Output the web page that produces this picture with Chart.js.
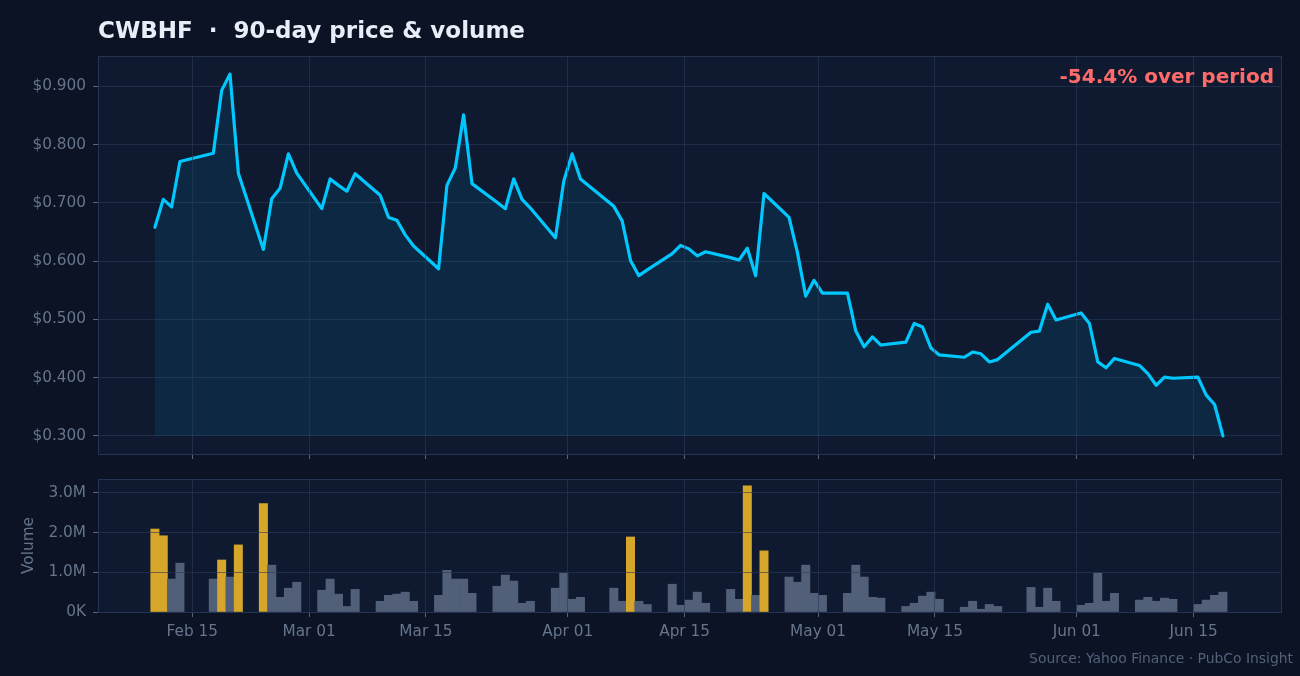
<!DOCTYPE html>
<html><head><meta charset="utf-8">
<script src="https://cdn.jsdelivr.net/npm/chart.js@4.4.1/dist/chart.umd.min.js"></script>
<style>
html,body{margin:0;padding:0;background:#0b1325;width:1300px;height:676px;overflow:hidden;}
#wrap{position:relative;width:1300px;height:676px;}
canvas{position:absolute;left:0;}
#priceCanvas{top:0;}
#volCanvas{top:470px;}
</style></head><body>
<div id="wrap"><canvas id="priceCanvas" width="1300" height="470"></canvas><canvas id="volCanvas" width="1300" height="206"></canvas></div>
<script>
const ticker = 'CWBHF';
const titleText = 'CWBHF  \u00b7  90-day price & volume';
const sourceText = 'Source: Yahoo Finance \u00b7 PubCo Insight';

const dates = [
 '2026-02-10','2026-02-11','2026-02-12','2026-02-13','2026-02-17','2026-02-18','2026-02-19','2026-02-20','2026-02-23','2026-02-24','2026-02-25','2026-02-26','2026-02-27',
 '2026-03-02','2026-03-03','2026-03-04','2026-03-05','2026-03-06','2026-03-09','2026-03-10','2026-03-11','2026-03-12','2026-03-13','2026-03-16','2026-03-17','2026-03-18','2026-03-19','2026-03-20','2026-03-23','2026-03-24','2026-03-25','2026-03-26','2026-03-27','2026-03-30','2026-03-31',
 '2026-04-01','2026-04-02','2026-04-06','2026-04-07','2026-04-08','2026-04-09','2026-04-10','2026-04-13','2026-04-14','2026-04-15','2026-04-16','2026-04-17','2026-04-20','2026-04-21','2026-04-22','2026-04-23','2026-04-24','2026-04-27','2026-04-28','2026-04-29','2026-04-30',
 '2026-05-01','2026-05-04','2026-05-05','2026-05-06','2026-05-07','2026-05-08','2026-05-11','2026-05-12','2026-05-13','2026-05-14','2026-05-15','2026-05-18','2026-05-19','2026-05-20','2026-05-21','2026-05-22','2026-05-26','2026-05-27','2026-05-28','2026-05-29',
 '2026-06-01','2026-06-02','2026-06-03','2026-06-04','2026-06-05','2026-06-08','2026-06-09','2026-06-10','2026-06-11','2026-06-12','2026-06-15','2026-06-16','2026-06-17','2026-06-18'
];

const prices = [
 0.658,0.706,0.693,0.771,0.785,0.893,0.921,0.751,0.620,0.707,0.725,0.784,0.751,
 0.690,0.741,0.730,0.720,0.750,0.713,0.675,0.670,0.645,0.626,0.587,0.730,0.760,0.851,0.733,0.701,0.690,0.741,0.706,0.691,0.640,0.737,
 0.784,0.741,0.694,0.669,0.601,0.575,0.585,0.613,0.627,0.621,0.609,0.616,0.606,0.602,0.622,0.575,0.716,0.675,0.615,0.540,0.567,
 0.545,0.545,0.480,0.453,0.470,0.456,0.461,0.493,0.487,0.451,0.439,0.435,0.444,0.441,0.427,0.431,0.478,0.480,0.526,0.499,
 0.511,0.493,0.427,0.417,0.433,0.421,0.407,0.387,0.401,0.399,0.401,0.370,0.354,0.300
];

const volumes = [
 2090000,1920000,830000,1230000,830000,1310000,880000,1690000,2730000,1180000,370000,600000,750000,
 550000,830000,450000,140000,570000,270000,420000,450000,500000,270000,420000,1050000,830000,830000,470000,650000,930000,780000,220000,270000,600000,980000,
 320000,370000,600000,270000,1890000,270000,190000,700000,170000,300000,500000,220000,570000,320000,3180000,420000,1540000,880000,750000,1180000,470000,
 420000,470000,1180000,880000,370000,350000,140000,220000,400000,500000,320000,120000,270000,70000,190000,140000,620000,120000,600000,270000,
 170000,220000,980000,270000,470000,300000,370000,270000,350000,320000,190000,300000,420000,500000
];

const xTickDates  = ['2026-02-15','2026-03-01','2026-03-15','2026-04-01','2026-04-15','2026-05-01','2026-05-15','2026-06-01','2026-06-15'];
const xTickLabels = ['Feb 15','Mar 01','Mar 15','Apr 01','Apr 15','May 01','May 15','Jun 01','Jun 15'];
const priceTicks  = [0.3,0.4,0.5,0.6,0.7,0.8,0.9];
const volumeTicks = [0,1000000,2000000,3000000];
const volumeTickLabels = ['0K','1.0M','2.0M','3.0M'];

// ---- helpers ----
const DAY = 86400000, EPOCH = Date.UTC(2026,0,1);
const dayNum = s => (Date.parse(s + 'T00:00:00Z') - EPOCH) / DAY;
const SESSION = 0.52; // daily bars time-stamped mid-session
const xVals = dates.map(d => dayNum(d) + SESSION);
const xTickVals = xTickDates.map(dayNum);
const X_MIN = 33.7, X_MAX = 175.6;

const FONT = 'DejaVu Sans';
const BG_PLOT = '#0f1a30';
const GRID = 'rgba(42,58,88,0.6)';
const TICKC = '#56657c';
const LABEL = '#66758c';
const SPINE = '#243350';
const LINE = '#00c8ff';
const GOLD = '#d6a62a';
const GRAY = '#525f78';

const minPrice = Math.min(...prices);
const meanVol = volumes.reduce((a,b)=>a+b,0) / volumes.length;
const pctChange = (prices[prices.length-1] / prices[0] - 1) * 100;

const panelPlugin = {
  id: 'panel',
  beforeDraw(chart) {
    const {ctx, chartArea:{left,top,width,height}} = chart;
    ctx.save(); ctx.fillStyle = BG_PLOT; ctx.fillRect(left, top, width, height); ctx.restore();
  },
  afterDraw(chart) {
    const {ctx, chartArea:{left,top,width,height}} = chart;
    ctx.save(); ctx.strokeStyle = SPINE; ctx.lineWidth = 1;
    ctx.strokeRect(Math.round(left)+0.5, Math.round(top)+0.5, Math.round(width)-1, Math.round(height));
    ctx.restore();
  }
};

const textPlugin = {
  id: 'texts',
  afterDraw(chart, args, opts) {
    const ctx = chart.ctx;
    ctx.save();
    (opts.items || []).forEach(t => {
      ctx.font = t.font; ctx.fillStyle = t.color; ctx.textAlign = t.align; ctx.textBaseline = 'alphabetic';
      ctx.fillText(t.text, t.x, t.y);
    });
    ctx.restore();
  }
};

function noPad(s) { s.paddingTop = 0; s.paddingBottom = 0; s.paddingLeft = 0; s.paddingRight = 0; }

function xScale(showLabels, height) {
  return {
    type: 'linear', min: X_MIN, max: X_MAX, offset: false,
    afterBuildTicks: s => { s.ticks = xTickVals.map(v => ({value: v})); },
    afterFit: s => { s.height = height; noPad(s); },
    grid: {color: GRID, lineWidth: 1, drawTicks: true, tickLength: 5, tickColor: TICKC, offset: false, z: 1},
    border: {display: false},
    ticks: {display: showLabels, autoSkip: false, maxRotation: 0, minRotation: 0, padding: 6, color: LABEL,
            font: {family: FONT, size: 15.3}, callback: (v, i) => xTickLabels[i]}
  };
}

new Chart(document.getElementById('priceCanvas'), {
  type: 'line',
  data: {
    datasets: [{
      label: ticker + ' price',
      data: xVals.map((x, i) => ({x, y: prices[i]})),
      borderColor: LINE, borderWidth: 3.2, pointRadius: 0, tension: 0,
      borderJoinStyle: 'round', borderCapStyle: 'round',
      fill: {value: minPrice}, backgroundColor: 'rgba(0,190,255,0.09)'
    }]
  },
  options: {
    responsive: false, animation: false, devicePixelRatio: 1,
    layout: {padding: {left: 0, right: 18, top: 56, bottom: 0}},
    plugins: {
      legend: {display: false}, tooltip: {enabled: false},
      texts: {items: [
        {text: titleText, x: 98, y: 38, font: 'bold 23px "DejaVu Sans"', color: '#e8eef7', align: 'left'},
        {text: pctChange.toFixed(1) + '% over period', x: 1274, y: 83, font: 'bold 20px "DejaVu Sans"', color: '#ff6b6b', align: 'right'}
      ]}
    },
    scales: {
      x: xScale(false, 16),
      y: {
        min: 0.269, max: 0.952,
        afterBuildTicks: s => { s.ticks = priceTicks.map(v => ({value: v})); },
        afterFit: s => { s.width = 98; noPad(s); },
        grid: {color: GRID, lineWidth: 1, tickLength: 5, tickColor: TICKC},
        border: {display: false},
        ticks: {padding: 7, color: LABEL, font: {family: FONT, size: 15.3}, callback: v => '$' + Number(v).toFixed(3)}
      }
    }
  },
  plugins: [panelPlugin, textPlugin]
});

new Chart(document.getElementById('volCanvas'), {
  type: 'bar',
  data: {
    datasets: [{
      label: 'Volume',
      data: xVals.map((x, i) => ({x, y: volumes[i]})),
      backgroundColor: volumes.map(v => v > 2 * meanVol ? GOLD : GRAY),
      borderWidth: 0, barPercentage: 1, categoryPercentage: 1
    }]
  },
  options: {
    responsive: false, animation: false, devicePixelRatio: 1,
    layout: {padding: {left: 0, right: 18, top: 9, bottom: 0}},
    plugins: {
      legend: {display: false}, tooltip: {enabled: false},
      texts: {items: [
        {text: sourceText, x: 1293, y: 193, font: '13.9px "DejaVu Sans"', color: '#536179', align: 'right'}
      ]}
    },
    scales: {
      x: xScale(true, 64),
      y: {
        min: 0, max: 3350000,
        afterBuildTicks: s => { s.ticks = volumeTicks.map(v => ({value: v})); },
        afterFit: s => { s.width = 98; noPad(s); },
        grid: {color: GRID, lineWidth: 1, tickLength: 5, tickColor: TICKC, z: 1},
        border: {display: false},
        title: {display: true, text: 'Volume', color: LABEL, font: {family: FONT, size: 15.3}, padding: {top: 20, bottom: 0}},
        ticks: {padding: 7, color: LABEL, font: {family: FONT, size: 15.3}, callback: (v, i) => volumeTickLabels[i]}
      }
    }
  },
  plugins: [panelPlugin, textPlugin]
});
</script>
</body></html>
